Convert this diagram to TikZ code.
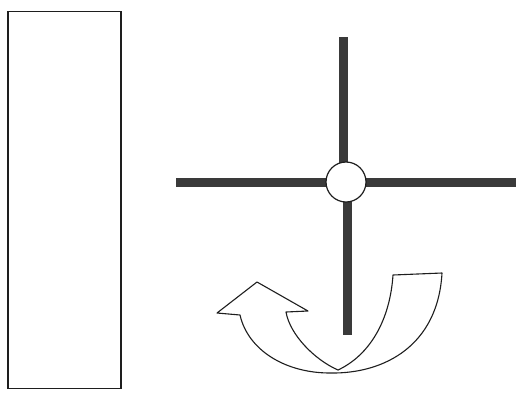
\documentclass[tikz,border=0pt]{standalone}
\usepackage{tikz}
\usetikzlibrary{positioning,calc}
\definecolor{bardark}{RGB}{58,58,58}
\definecolor{inkline}{RGB}{30,30,30}

\tikzset{
  panel/.style={draw=inkline, line width=1.2pt, minimum width=113pt, minimum height=377pt, inner sep=0pt},
  hub/.style={circle, draw=inkline, fill=white, line width=1.2pt, minimum size=40pt, inner sep=0pt},
  bar/.style={draw=bardark, line width=9pt},
  turnarrow/.style={draw=inkline, fill=white, line width=1.1pt, line join=round}
}

\begin{document}
\begin{tikzpicture}[x=1pt,y=-1pt]
\useasboundingbox (0,0) rectangle (516,394);

% left board
\node[panel] (board) at (64.5,200) {};

% cross with round joint
\coordinate (c) at (346,182);
\coordinate (topend) at (343,37);
\coordinate (bottomend) at (347,335);
\coordinate (leftend) at (176,182);
\coordinate (rightend) at (516,182);
\draw[bar] (c) -- (leftend);
\draw[bar] (c) -- (rightend);
\draw[bar] (c -| topend) -- (topend);
\draw[bar] (c -| bottomend) -- (bottomend);
\node[hub] (hub) at (c) {};

% curved turning arrow
\path[turnarrow] (442,273) -- (393,275)
  .. controls (390,320) and (370,355) .. (338,370)
  .. controls (315,360) and (290,335) .. (286,312)
  -- (308,311) -- (257,282) -- (217,313) -- (240,315)
  .. controls (248,350) and (285,373) .. (330,373)
  .. controls (385,374) and (438,345) .. (442,273) -- cycle;
\end{tikzpicture}
\end{document}
